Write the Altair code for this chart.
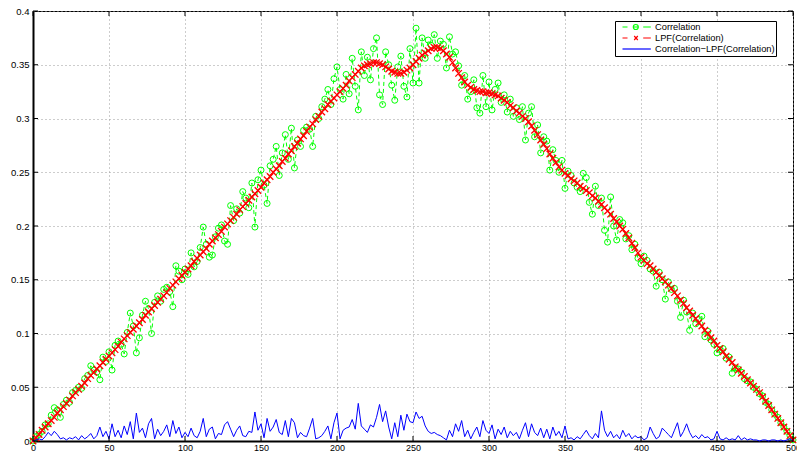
import altair as alt
import pandas as pd

# ---------------- data ----------------
series_names = ["Correlation", "LPF(Correlation)", "Correlation\u2212LPF(Correlation)"]
series_colors = ["#00ff00", "#ff0000", "#0000ff"]

x_ticks = [0, 50, 100, 150, 200, 250, 300, 350, 400, 450, 500]
y_ticks = [0, 0.05, 0.1, 0.15, 0.2, 0.25, 0.3, 0.35, 0.4]

corr_x = list(range(0, 501, 2))
corr_vals = [
    0.000, 0.004, 0.006, 0.009, 0.015, 0.016, 0.024, 0.031, 0.029, 0.022, 0.034, 0.038, 0.036, 0.045, 0.047, 0.050, 0.049, 0.058, 0.061, 0.070, 0.066, 0.064, 0.057, 0.078, 0.074,
    0.083, 0.066, 0.089, 0.093, 0.090, 0.081, 0.101, 0.119, 0.107, 0.082, 0.096, 0.117, 0.130, 0.123, 0.100, 0.129, 0.135, 0.130, 0.141, 0.143, 0.139, 0.125, 0.163, 0.158, 0.150,
    0.160, 0.155, 0.175, 0.162, 0.167, 0.180, 0.199, 0.183, 0.171, 0.173, 0.190, 0.198, 0.201, 0.186, 0.183, 0.219, 0.205, 0.216, 0.212, 0.232, 0.226, 0.217, 0.240, 0.199, 0.243,
    0.252, 0.238, 0.221, 0.256, 0.262, 0.274, 0.247, 0.268, 0.285, 0.262, 0.291, 0.254, 0.280, 0.274, 0.289, 0.292, 0.290, 0.274, 0.302, 0.300, 0.311, 0.318, 0.327, 0.313, 0.337,
    0.348, 0.327, 0.318, 0.341, 0.323, 0.356, 0.330, 0.308, 0.362, 0.340, 0.357, 0.336, 0.365, 0.375, 0.322, 0.313, 0.362, 0.350, 0.331, 0.317, 0.348, 0.358, 0.330, 0.320, 0.365,
    0.333, 0.384, 0.333, 0.375, 0.356, 0.373, 0.368, 0.378, 0.356, 0.372, 0.369, 0.347, 0.376, 0.360, 0.362, 0.349, 0.331, 0.340, 0.318, 0.325, 0.336, 0.310, 0.305, 0.340, 0.311,
    0.334, 0.308, 0.327, 0.333, 0.315, 0.322, 0.306, 0.318, 0.302, 0.310, 0.299, 0.311, 0.280, 0.305, 0.311, 0.283, 0.294, 0.268, 0.283, 0.279, 0.252, 0.271, 0.261, 0.250, 0.261,
    0.235, 0.251, 0.247, 0.240, 0.236, 0.232, 0.249, 0.245, 0.222, 0.211, 0.237, 0.219, 0.226, 0.196, 0.185, 0.227, 0.200, 0.187, 0.206, 0.203, 0.188, 0.191, 0.178, 0.183, 0.170,
    0.165, 0.172, 0.168, 0.160, 0.158, 0.144, 0.157, 0.150, 0.132, 0.148, 0.141, 0.142, 0.130, 0.115, 0.131, 0.120, 0.103, 0.119, 0.109, 0.113, 0.116, 0.097, 0.102, 0.094, 0.090,
    0.082, 0.085, 0.086, 0.077, 0.078, 0.063, 0.068, 0.067, 0.064, 0.058, 0.056, 0.055, 0.050, 0.048, 0.044, 0.042, 0.036, 0.034, 0.029, 0.025, 0.022, 0.017, 0.013, 0.009, 0.005, 0.001,
]

lpf_x = list(range(0, 501, 2))
lpf_vals = [
    0.000, 0.003, 0.006, 0.010, 0.013, 0.016, 0.019, 0.022, 0.026, 0.029, 0.032, 0.035, 0.038, 0.042, 0.045, 0.048, 0.051, 0.054, 0.058, 0.061, 0.064, 0.067, 0.070, 0.073, 0.076,
    0.079, 0.082, 0.085, 0.088, 0.092, 0.095, 0.098, 0.101, 0.104, 0.107, 0.110, 0.113, 0.117, 0.120, 0.123, 0.126, 0.129, 0.132, 0.135, 0.138, 0.142, 0.145, 0.148, 0.151, 0.154,
    0.157, 0.160, 0.163, 0.167, 0.170, 0.173, 0.176, 0.179, 0.183, 0.186, 0.189, 0.192, 0.195, 0.199, 0.202, 0.205, 0.208, 0.211, 0.215, 0.218, 0.221, 0.224, 0.227, 0.230, 0.233,
    0.236, 0.240, 0.243, 0.246, 0.250, 0.253, 0.256, 0.260, 0.263, 0.267, 0.270, 0.274, 0.277, 0.281, 0.284, 0.288, 0.292, 0.295, 0.299, 0.302, 0.306, 0.309, 0.313, 0.316, 0.319,
    0.322, 0.325, 0.328, 0.331, 0.335, 0.338, 0.341, 0.344, 0.347, 0.349, 0.350, 0.351, 0.352, 0.352, 0.351, 0.350, 0.348, 0.346, 0.344, 0.343, 0.342, 0.342, 0.343, 0.345, 0.347,
    0.350, 0.353, 0.356, 0.359, 0.361, 0.363, 0.365, 0.366, 0.366, 0.365, 0.363, 0.360, 0.357, 0.352, 0.347, 0.342, 0.338, 0.334, 0.331, 0.329, 0.327, 0.326, 0.325, 0.325, 0.324,
    0.324, 0.323, 0.322, 0.321, 0.319, 0.317, 0.315, 0.312, 0.310, 0.307, 0.305, 0.302, 0.300, 0.297, 0.293, 0.289, 0.285, 0.280, 0.276, 0.272, 0.267, 0.263, 0.259, 0.255, 0.252,
    0.249, 0.247, 0.244, 0.242, 0.240, 0.237, 0.235, 0.233, 0.231, 0.228, 0.226, 0.223, 0.220, 0.217, 0.214, 0.211, 0.207, 0.204, 0.200, 0.197, 0.193, 0.189, 0.184, 0.180, 0.175,
    0.171, 0.168, 0.165, 0.163, 0.160, 0.157, 0.154, 0.151, 0.148, 0.145, 0.142, 0.138, 0.135, 0.131, 0.128, 0.124, 0.121, 0.117, 0.114, 0.110, 0.107, 0.103, 0.100, 0.096, 0.093,
    0.089, 0.086, 0.083, 0.079, 0.076, 0.073, 0.069, 0.066, 0.063, 0.060, 0.057, 0.054, 0.051, 0.048, 0.045, 0.041, 0.037, 0.033, 0.029, 0.025, 0.021, 0.017, 0.013, 0.009, 0.005, 0.001,
]

diff_x = list(range(0, 501, 2))
diff_vals = [
    0.000, 0.001, 0.002, 0.001, 0.004, 0.008, 0.005, 0.009, 0.006, 0.002, 0.003, 0.001, 0.003, 0.002, 0.004, 0.001, 0.005, 0.002, 0.004, 0.007, 0.002, 0.005, 0.013, 0.004, 0.009,
    0.002, 0.016, 0.004, 0.010, 0.003, 0.014, 0.006, 0.018, 0.002, 0.026, 0.008, 0.012, 0.003, 0.016, 0.021, 0.002, 0.011, 0.005, 0.009, 0.015, 0.004, 0.019, 0.007, 0.013, 0.003,
    0.008, 0.004, 0.012, 0.005, 0.003, 0.009, 0.021, 0.004, 0.011, 0.013, 0.002, 0.007, 0.006, 0.015, 0.018, 0.011, 0.004, 0.010, 0.014, 0.005, 0.004, 0.009, 0.008, 0.027, 0.010,
    0.016, 0.003, 0.021, 0.009, 0.013, 0.020, 0.008, 0.006, 0.019, 0.004, 0.021, 0.017, 0.003, 0.008, 0.005, 0.004, 0.012, 0.021, 0.002, 0.003, 0.005, 0.009, 0.014, 0.002, 0.017,
    0.026, 0.002, 0.010, 0.012, 0.013, 0.020, 0.011, 0.035, 0.014, 0.011, 0.008, 0.015, 0.013, 0.022, 0.034, 0.018, 0.028, 0.013, 0.002, 0.017, 0.004, 0.024, 0.010, 0.025, 0.018,
    0.017, 0.027, 0.021, 0.023, 0.014, 0.009, 0.007, 0.008, 0.006, 0.005, 0.003, 0.001, 0.010, 0.004, 0.016, 0.009, 0.019, 0.004, 0.010, 0.002, 0.008, 0.013, 0.004, 0.019, 0.010,
    0.007, 0.015, 0.002, 0.011, 0.006, 0.013, 0.003, 0.009, 0.005, 0.008, 0.002, 0.010, 0.017, 0.004, 0.016, 0.008, 0.005, 0.012, 0.003, 0.011, 0.002, 0.013, 0.005, 0.009, 0.003,
    0.014, 0.002, 0.003, 0.001, 0.004, 0.002, 0.006, 0.010, 0.005, 0.002, 0.007, 0.003, 0.028, 0.010, 0.004, 0.009, 0.003, 0.006, 0.002, 0.010, 0.004, 0.007, 0.002, 0.005, 0.003,
    0.004, 0.001, 0.003, 0.013, 0.007, 0.002, 0.004, 0.012, 0.009, 0.006, 0.003, 0.010, 0.017, 0.004, 0.009, 0.016, 0.008, 0.003, 0.005, 0.002, 0.006, 0.003, 0.004, 0.001, 0.002,
    0.009, 0.002, 0.001, 0.003, 0.001, 0.002, 0.001, 0.005, 0.001, 0.003, 0.001, 0.002, 0.001, 0.001, 0.000, 0.001, 0.001, 0.000, 0.001, 0.001, 0.000, 0.001, 0.000, 0.001, 0.002, 0.000,
]

assert len(corr_vals) == len(corr_x), (len(corr_vals), len(corr_x))
assert len(lpf_vals) == len(lpf_x), (len(lpf_vals), len(lpf_x))
assert len(diff_vals) == len(diff_x), (len(diff_vals), len(diff_x))

# ---------------- frames ----------------
corr_df = pd.DataFrame({"x": corr_x, "v": corr_vals})
lpf_df = pd.DataFrame({"x": lpf_x, "v": lpf_vals})
diff_df = pd.DataFrame({"x": diff_x, "v": diff_vals})
xt_df = pd.DataFrame({"t": x_ticks})
yt_df = pd.DataFrame({"t": y_ticks})
leg_df = pd.DataFrame({"series": series_names, "x": [0, 0, 0], "v": [0, 0, 0]})

W, H = 760, 430
FONT = "Liberation Sans"

xs = alt.Scale(domain=[0, 500], nice=False, zero=False)
ys = alt.Scale(domain=[0, 0.4], nice=False, zero=False)

x_axis = alt.Axis(values=x_ticks, title=None, grid=True, ticks=False, domain=True,
                  domainColor="black", domainWidth=2, labelFont=FONT, labelFontSize=9,
                  labelColor="black", labelPadding=2, gridColor="#9a9a9a",
                  gridDash=[1, 3], gridWidth=1, labelFlush=False, labelOverlap=False)
y_axis = alt.Axis(values=y_ticks, title=None, grid=True, ticks=False, domain=True,
                  domainColor="black", domainWidth=2, labelFont=FONT, labelFontSize=9.5,
                  labelColor="black", labelPadding=4, format="~g", gridColor="#9a9a9a",
                  gridDash=[1, 3], gridWidth=1, labelFlush=False, labelOverlap=False)

X = alt.X("x:Q", scale=xs, axis=x_axis)
Y = alt.Y("v:Q", scale=ys, axis=y_axis)

green_line = alt.Chart(corr_df).mark_line(color="#00ff00", strokeWidth=1, strokeDash=[4, 3]).encode(x=X, y=Y)
green_pts = alt.Chart(corr_df).mark_point(shape="circle", filled=False, color="#00ff00",
                                          strokeWidth=1, size=36, opacity=1).encode(x=X, y=Y)
red_line = alt.Chart(lpf_df).mark_line(color="#ff0000", strokeWidth=1.2, strokeDash=[4, 3]).encode(x=X, y=Y)
red_pts = alt.Chart(lpf_df).mark_point(shape="M-1,-1L1,1M-1,1L1,-1", filled=False, color="#ff0000",
                                       strokeWidth=1.3, size=42, opacity=1).encode(x=X, y=Y)
blue_line = alt.Chart(diff_df).mark_line(color="#0000ff", strokeWidth=1).encode(x=X, y=Y)

# inward tick marks on all four sides
XT = alt.X("t:Q", scale=xs, axis=x_axis)
YT = alt.Y("t:Q", scale=ys, axis=y_axis)
tick_b = alt.Chart(xt_df).mark_rule(color="black", strokeWidth=1).encode(x=XT, y=alt.value(H), y2=alt.value(H - 5))
tick_t = alt.Chart(xt_df).mark_rule(color="black", strokeWidth=1).encode(x=XT, y=alt.value(0), y2=alt.value(5))
tick_l = alt.Chart(yt_df).mark_rule(color="black", strokeWidth=1).encode(y=YT, x=alt.value(0), x2=alt.value(5))
tick_r = alt.Chart(yt_df).mark_rule(color="black", strokeWidth=1).encode(y=YT, x=alt.value(W), x2=alt.value(W - 5))

# legend symbols (unit = 4 px): dashed line with marker / solid line
p_corr = "M0.375,0L1.625,0M3.05,0L4.35,0M4.32,0A0.62,0.62 0 1,1 3.08,0A0.62,0.62 0 1,1 4.32,0M5.55,0L7.45,0"
p_lpf = "M0.375,0L1.625,0M3.3,-0.5L4.2,0.5M3.3,0.5L4.2,-0.5M5.55,0L7.45,0"
p_diff = "M0.375,0L7.45,0"

legend = alt.Legend(title=None, orient="none", legendX=582, legendY=10, padding=1,
                    fillColor="white", strokeColor="black", cornerRadius=0,
                    labelFont=FONT, labelFontSize=9.3, labelColor="black", labelLimit=300,
                    symbolSize=64, symbolStrokeWidth=1.2, labelOffset=29, rowPadding=0,
                    symbolOpacity=1)

leg_layer = alt.Chart(leg_df).mark_point(filled=False, size=0, strokeWidth=1).encode(
    x=X, y=Y,
    shape=alt.Shape("series:N", scale=alt.Scale(domain=series_names, range=[p_corr, p_lpf, p_diff]), legend=legend),
    color=alt.Color("series:N", scale=alt.Scale(domain=series_names, range=series_colors), legend=legend),
)

chart = alt.layer(
    green_line, green_pts, red_line, red_pts, blue_line,
    tick_b, tick_t, tick_l, tick_r, leg_layer,
).properties(
    width=W, height=H,
    autosize=alt.AutoSizeParams(type="none"),
    padding={"left": 33, "top": 11, "right": 4, "bottom": 12},
    background="white",
).configure_view(stroke="black", strokeWidth=1)

chart.save("out.html", embed_options={"renderer": "svg", "actions": False})
